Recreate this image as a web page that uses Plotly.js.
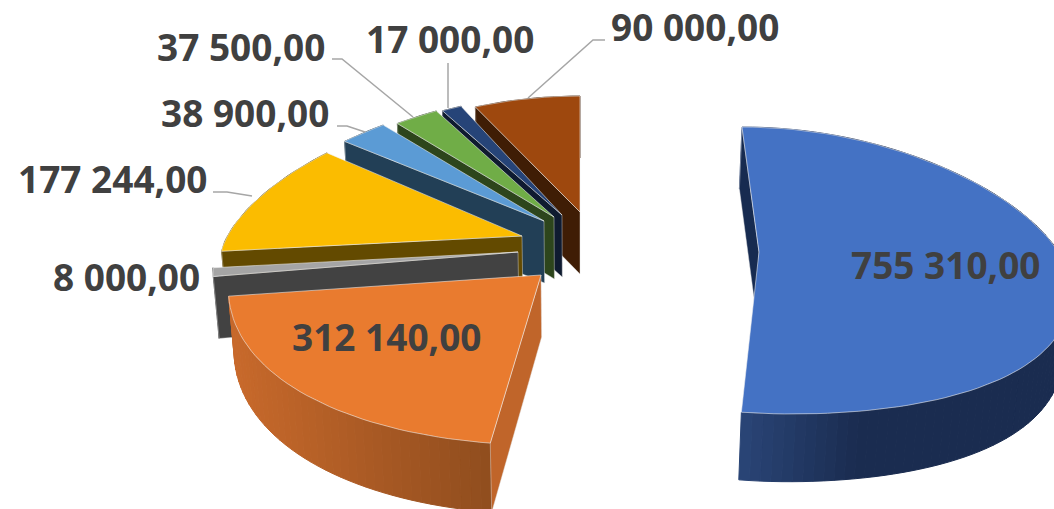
<!DOCTYPE html>
<html><head><meta charset="utf-8">
<script src="https://cdn.plot.ly/plotly-3.0.1.min.js"></script>
<style>html,body{margin:0;padding:0;background:#fff}#c{width:1054px;height:509px}</style>
</head><body><div id="c"></div>
<script>
// data, clockwise from 12 o'clock
const values = [755310, 312140, 8000, 177244, 38900, 37500, 17000, 90000];
// styling
const topColors  = ['#4472C4','#E97B2F','#A5A5A5','#FBBC00','#5B9BD5','#70AD47','#264478','#9E480E'];
const wallColors = ['#172B50','#C0652A','#424242','#634A00','#223F56','#2D451C','#0F1B30','#3F1D05'];
// 3D projection per slice (explosion)
const apexX   = [759, 541, 518, 522, 544, 554, 562, 580];
const apexY   = [252, 275, 252, 236, 221, 217, 215, 212];
const scaleX  = [1.016, 1.025, 1, 0.985, 1, 0.97, 0.98, 1];
const backNarrow = [10, 35, 35, 35, 35, 35, 35, 35];
const radiusUp = [125, 125, 125, 130, 125, 122, 120, 116];
const radiusDown = [162, 170, 250, 168, 168, 168, 168, 168];
const vanishX = 580;
// label placement
const labelX = [945, 386, 126, 112, 245, 241, 450, 695];
const labelY = [264, 336, 276, 178, 112, 46, 38, 26];
const leaderX = [null, null, null, [213,227,252], [337,347,365], [332,342,413], [448,448], [605,593,528]];
const leaderY = [null, null, null, [192,192,196], [126,126,132], [59,59,117], [63,108], [40,40,98]];

const total = values.reduce((a,b)=>a+b,0);
const fmt = v => String(v).replace(/\B(?=(\d{3})+$)/g,' ') + ',00';
const rad = d => d*Math.PI/180;
function rim(i,t){
  const s=Math.sin(rad(t)), c=Math.cos(rad(t));
  const rx=(305-backNarrow[i]*Math.max(c,0))*scaleX[i];
  const ry=c>0?radiusUp[i]:radiusDown[i];
  const off=apexX[i]-vanishX;
  const lean=c>0?0.095:(off>0?0.185:0);
  const k=s<0?14:24;
  return [apexX[i]+rx*s-off*lean*c, apexY[i]-ry*c+k*s*s];
}
function drop(p){
  const d=62+(p[1]>300?(p[1]-300)*0.05:0);
  return [p[0]-(p[0]-vanishX)*0.016, p[1]+d];
}
function poly(pts,color,line,name){
  return {type:'scatter',mode:'lines',x:pts.map(p=>p[0]).concat(pts[0][0]),y:pts.map(p=>p[1]).concat(pts[0][1]),
    fill:'toself',fillcolor:color,line:line||{color:color,width:1},hoverinfo:name?'text':'skip',text:name||'',showlegend:false};
}
function mix(a,b,f){
  const h=x=>[1,3,5].map(j=>parseInt(x.substr(j,2),16));
  const A=h(a),B=h(b);
  return 'rgb('+A.map((v,j)=>Math.round(v+(B[j]-v)*f)).join(',')+')';
}
const spans=[]; let acc=0;
values.forEach(v=>{const w=v/total*360;spans.push([acc,acc+w]);acc+=w;});
const gradients={0:['#2A4577','#1A2C50',740,860],1:['#C8692B','#8F4D1E',232,492]};
const slices=values.map((v,i)=>{
  const [t0,t1]=spans[i], out=[];
  const steps=Math.max(2,Math.ceil((t1-t0)/2));
  const arc=[]; for(let j=0;j<=steps;j++) arc.push(rim(i,t0+(t1-t0)*j/steps));
  const apex=[apexX[i],apexY[i]];
  // outer wall
  if(gradients[i]){
    const g=gradients[i];
    for(let j=0;j<steps;j++){
      const a=arc[j],b=arc[j+1];
      const f=Math.min(1,Math.max(0,((a[0]+b[0])/2-g[2])/(g[3]-g[2])));
      const col=mix(g[0],g[1],f);
      out.push(poly([a,b,drop(b),drop(a)],col));
    }
  } else {
    out.push(poly(arc.concat(arc.slice().reverse().map(drop)),wallColors[i]));
  }
  // start-edge wall
  out.push(poly([apex,arc[0],drop(arc[0]),drop(apex)],wallColors[i],{color:'rgba(225,225,225,0.55)',width:0.8}));
  // top face
  out.push(poly([apex].concat(arc),topColors[i],{color:'rgba(240,240,240,0.7)',width:0.8},fmt(v)));
  return out;
});
const order=[7,6,5,4,3,2,1,0];
let traces=[];
order.forEach(i=>{traces=traces.concat(slices[i]);});
leaderX.forEach((lx,i)=>{ if(lx) traces.push({type:'scatter',mode:'lines',x:lx,y:leaderY[i],line:{color:'#A6A6A6',width:1.5},hoverinfo:'skip',showlegend:false}); });
const annotations=values.map((v,i)=>({x:labelX[i],y:labelY[i],xref:'x',yref:'y',text:fmt(v),showarrow:false,xanchor:'center',yanchor:'middle',
  font:{family:'"Noto Sans",sans-serif',size:37,color:'#404040',weight:700}}));
Plotly.newPlot('c',traces,{
  width:1054,height:509,margin:{l:0,r:0,t:0,b:0},paper_bgcolor:'#fff',plot_bgcolor:'#fff',showlegend:false,
  xaxis:{range:[0,1054],visible:false,fixedrange:true},
  yaxis:{range:[509,0],visible:false,fixedrange:true},
  annotations:annotations,hovermode:'closest'
},{displayModeBar:false});
</script></body></html>
